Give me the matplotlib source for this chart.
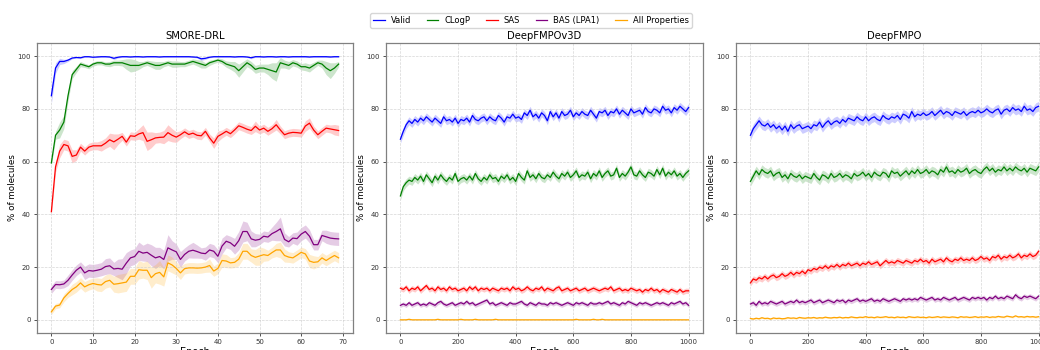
import numpy as np
import matplotlib
matplotlib.use("Agg")
import matplotlib.pyplot as plt

labels = ["Valid", "CLogP", "SAS", "BAS (LPA1)", "All Properties"]
colors = ["blue", "green", "red", "purple", "orange"]

# ---- SMORE-DRL (70 epochs), mean and std
smore_valid = [85.0, 95.5, 98.0, 98.0, 98.5, 99.3, 99.5, 99.4, 99.8, 99.8,
               99.6, 99.7, 99.8, 99.8, 99.7, 99.2, 99.6, 99.8, 99.8, 99.7,
               99.8, 99.8, 99.7, 99.8, 99.8, 99.8, 99.7, 99.8, 99.8, 99.8,
               99.8, 99.8, 99.8, 99.8, 99.7, 99.6, 99.0, 99.2, 99.6, 99.8,
               99.8, 99.8, 99.8, 99.8, 99.7, 99.8, 99.8, 99.7, 99.4, 99.8,
               99.8, 99.7, 99.8, 99.8, 99.7, 99.8, 99.8, 99.7, 99.8, 99.8,
               99.8, 99.8, 99.7, 99.8, 99.8, 99.8, 99.8, 99.7, 99.8, 99.8]
smore_valid_sd = [3.0, 2.0, 1.2, 0.8, 0.5, 0.3, 0.2, 0.3, 0.2, 0.2,
                  0.2, 0.2, 0.2, 0.2, 0.2, 0.5, 0.3, 0.2, 0.2, 0.2,
                  0.2, 0.2, 0.2, 0.2, 0.2, 0.2, 0.2, 0.2, 0.2, 0.2,
                  0.2, 0.2, 0.2, 0.2, 0.2, 0.3, 0.6, 0.4, 0.2, 0.2,
                  0.2, 0.2, 0.2, 0.2, 0.2, 0.2, 0.2, 0.2, 0.4, 0.2,
                  0.2, 0.2, 0.2, 0.2, 0.2, 0.2, 0.2, 0.2, 0.2, 0.2,
                  0.2, 0.2, 0.2, 0.2, 0.2, 0.2, 0.2, 0.2, 0.2, 0.2]
smore_clogp = [59.5, 70.0, 72.0, 75.0, 85.0, 93.0, 95.0, 97.0, 96.5, 96.0,
               97.0, 97.5, 97.5, 97.0, 97.0, 97.5, 97.5, 97.5, 97.0, 96.5,
               96.5, 96.5, 97.0, 97.5, 97.0, 96.5, 96.5, 97.0, 97.5, 97.0,
               97.0, 97.0, 97.0, 97.5, 98.0, 97.5, 97.0, 96.5, 97.5, 98.0,
               98.5, 98.0, 97.0, 96.5, 96.0, 94.5, 96.0, 97.5, 96.5, 95.0,
               95.5, 95.5, 95.0, 94.5, 94.0, 97.5, 97.0, 96.5, 97.5, 97.0,
               96.0, 96.0, 95.5, 96.5, 97.5, 97.0, 95.5, 94.5, 95.5, 97.0]
smore_clogp_sd = [1.0, 1.5, 3.0, 2.5, 2.0, 1.5, 1.2, 1.0, 0.8, 0.8,
                  0.8, 0.8, 0.8, 0.8, 1.0, 1.0, 1.0, 1.2, 2.0, 2.5,
                  2.2, 1.5, 1.0, 1.0, 1.2, 1.5, 1.5, 1.0, 1.0, 1.2,
                  1.2, 1.0, 1.0, 1.0, 1.0, 1.2, 1.5, 1.0, 1.0, 0.8,
                  0.8, 1.0, 1.2, 1.5, 2.0, 2.5, 2.0, 1.5, 1.5, 1.5,
                  1.5, 1.5, 2.0, 3.0, 3.5, 2.0, 1.5, 1.5, 1.2, 1.2,
                  1.2, 1.5, 1.5, 1.2, 1.0, 1.5, 2.5, 3.0, 2.0, 1.0]
smore_sas = [41.0, 58.0, 64.0, 66.5, 66.0, 62.0, 62.5, 65.5, 64.0, 65.5,
             66.0, 66.0, 66.0, 67.0, 68.3, 67.5, 68.5, 69.6, 67.4, 69.8,
             69.6, 70.5, 71.0, 67.7, 68.3, 69.0, 69.2, 69.3, 71.0, 70.0,
             69.3, 70.2, 71.3, 70.3, 70.8, 70.0, 69.8, 71.5, 69.0, 67.0,
             69.6, 70.5, 71.5, 70.6, 72.0, 73.6, 73.0, 72.3, 71.8, 73.4,
             72.0, 72.7, 71.5, 72.5, 74.0, 72.0, 70.2, 70.8, 71.1, 71.0,
             70.8, 73.5, 74.6, 72.0, 70.2, 71.5, 72.7, 72.4, 72.1, 71.8]
smore_sas_sd = [1.0, 2.0, 2.5, 2.0, 2.0, 2.5, 2.0, 1.5, 1.5, 1.5,
                1.5, 1.5, 2.0, 2.0, 2.5, 3.0, 2.0, 1.5, 1.5, 1.5,
                1.5, 2.0, 3.0, 3.5, 3.0, 2.0, 2.0, 2.5, 3.0, 2.5,
                2.0, 1.5, 1.5, 1.5, 1.5, 1.5, 1.5, 1.5, 1.5, 2.0,
                2.0, 1.5, 1.5, 1.5, 1.5, 1.5, 1.5, 1.5, 1.5, 2.0,
                1.5, 1.5, 1.5, 1.5, 2.0, 1.5, 1.5, 1.5, 1.5, 1.5,
                1.5, 2.0, 2.0, 1.5, 1.5, 1.5, 1.5, 1.5, 2.0, 2.0]
smore_bas = [11.5, 13.4, 13.3, 13.6, 15.0, 17.0, 18.8, 20.0, 17.8, 18.7,
             18.5, 18.8, 19.2, 20.2, 20.5, 19.3, 19.5, 19.2, 21.5, 23.5,
             24.0, 26.0, 25.3, 25.6, 24.5, 23.5, 24.0, 22.9, 27.3, 26.5,
             25.8, 22.9, 24.8, 26.0, 26.4, 25.9, 25.3, 25.1, 26.5, 26.0,
             24.1, 28.0, 29.8, 29.2, 27.9, 30.0, 33.5, 33.5, 30.7, 30.2,
             30.5, 31.7, 31.4, 32.7, 33.5, 34.5, 30.5, 29.6, 31.0, 30.8,
             32.5, 33.5, 31.7, 28.5, 28.5, 32.0, 31.5, 31.0, 30.8, 30.7]
smore_bas_sd = [1.5, 1.5, 1.5, 1.5, 2.0, 2.0, 2.0, 2.0, 2.5, 2.5,
                2.5, 2.5, 2.5, 3.0, 3.0, 2.5, 3.5, 4.0, 4.0, 3.0,
                3.0, 3.5, 3.0, 3.5, 4.0, 4.0, 3.5, 3.5, 5.0, 3.5,
                3.0, 3.0, 2.5, 2.5, 3.0, 2.5, 2.0, 2.5, 2.5, 2.5,
                2.5, 3.0, 2.5, 2.5, 3.0, 3.5, 4.0, 3.5, 3.0, 2.5,
                2.0, 2.0, 2.0, 2.5, 3.5, 4.5, 2.5, 2.0, 2.0, 2.5,
                2.5, 2.5, 2.5, 2.0, 2.0, 2.0, 2.5, 2.5, 2.5, 2.5]
smore_all = [3.0, 5.2, 5.6, 8.3, 10.0, 11.5, 12.5, 14.0, 12.5, 13.3,
             13.8, 13.4, 13.2, 14.5, 15.0, 13.5, 13.7, 14.0, 14.3, 16.5,
             16.5, 19.0, 18.8, 18.8, 16.0, 17.5, 18.0, 16.3, 21.6, 20.8,
             19.5, 17.8, 19.4, 19.7, 19.7, 19.6, 19.7, 20.0, 20.6, 18.5,
             19.5, 22.5, 22.3, 21.6, 21.8, 23.0, 26.0, 26.0, 24.4, 23.7,
             24.2, 24.7, 24.4, 25.5, 26.5, 26.5, 24.4, 23.8, 23.5, 24.5,
             25.6, 25.0, 22.3, 21.8, 22.0, 23.5, 22.5, 23.5, 24.4, 23.5]
smore_all_sd = [1.0, 1.0, 1.0, 1.5, 1.5, 2.0, 2.0, 2.0, 2.0, 2.0,
                2.0, 2.5, 2.5, 2.5, 2.5, 3.0, 3.5, 3.5, 3.5, 3.0,
                3.0, 3.5, 3.0, 3.5, 4.0, 3.5, 4.5, 3.5, 3.0, 3.0,
                2.5, 2.5, 2.0, 2.0, 2.0, 2.0, 2.0, 2.0, 2.5, 2.0,
                2.0, 2.5, 2.5, 2.0, 2.0, 2.5, 3.0, 3.0, 2.5, 3.0,
                3.5, 2.5, 2.0, 2.0, 2.5, 3.0, 2.5, 2.0, 2.0, 2.0,
                2.0, 2.0, 2.5, 2.5, 2.0, 2.0, 2.0, 2.0, 2.0, 2.0]

# ---- DeepFMPOv3D (sampled every 10 epochs)
v3d_valid = [68.5, 71.5, 74.0, 75.5, 74.5, 76.0, 75.0, 76.5, 75.5, 77.0,
             76.0, 75.0, 76.5, 75.5, 74.5, 77.0, 75.5, 76.0, 75.0, 76.5,
             74.5, 76.0, 75.5, 76.5, 75.0, 77.5, 76.0, 75.5, 76.5, 77.0,
             75.5, 77.0, 76.0, 75.5, 77.5, 76.5, 75.0, 77.0, 76.5, 78.0,
             76.5, 77.0, 76.0, 78.5, 77.5, 79.5, 77.0, 78.0, 76.5, 78.5,
             77.5, 75.5, 79.0, 77.0, 78.5, 76.5, 79.0, 77.5, 78.0, 79.5,
             77.0, 78.5, 77.5, 79.0, 78.0, 77.5, 79.5, 78.0, 76.5, 79.0,
             78.5, 79.5, 77.5, 79.0, 78.5, 80.0, 78.0, 79.5, 78.5, 77.5,
             80.0, 78.5, 79.0, 79.5, 78.0, 80.5, 79.0, 78.5, 80.0, 79.5,
             78.5, 81.0, 79.5, 80.0, 78.5, 80.5, 79.5, 81.0, 80.0, 79.0,
             80.5]
v3d_clogp = [47.0, 50.5, 52.0, 53.0, 52.5, 54.0, 53.0, 54.5, 52.5, 55.0,
             53.5, 52.0, 54.5, 53.0, 55.0, 53.5, 52.5, 54.0, 53.0, 55.5,
             52.5, 53.5, 54.0, 53.0, 54.5, 53.0, 55.5, 53.5, 52.5, 54.0,
             53.0, 55.0, 53.5, 54.0, 52.5, 54.5, 53.5, 55.0, 53.0, 54.0,
             52.5, 55.5, 54.0, 53.0, 56.5, 54.0, 55.0, 53.5, 55.5, 54.0,
             53.5, 55.0, 54.0, 56.0, 54.5, 53.5, 55.5, 54.5, 56.0, 54.0,
             55.0, 56.5, 54.0, 55.0, 54.5, 56.0, 53.5, 55.5, 54.5, 56.5,
             54.0, 55.5, 56.5, 54.5, 55.0, 57.5, 54.0, 55.5, 54.5, 56.0,
             58.0, 55.0, 54.5, 56.5, 55.0, 54.0, 56.0, 55.5, 54.5, 57.0,
             55.0, 57.5, 54.5, 56.0, 55.0, 56.5, 54.5, 55.5, 54.0, 55.5,
             56.5]
v3d_sas = [12.0, 11.5, 12.5, 11.0, 12.0, 11.5, 12.5, 11.0, 12.0, 13.0,
           11.5, 12.0, 11.0, 12.5, 11.5, 12.0, 11.0, 12.5, 11.5, 12.0,
           11.0, 11.5, 12.0, 11.0, 12.5, 11.5, 12.5, 11.0, 12.0, 11.5,
           12.0, 11.0, 12.0, 11.5, 11.0, 12.0, 11.5, 12.0, 11.0, 12.5,
           11.5, 12.0, 11.0, 11.5, 12.5, 11.5, 11.0, 12.0, 11.5, 12.5,
           11.0, 12.0, 11.5, 11.0, 12.0, 12.5, 11.0, 11.5, 12.0, 11.0,
           11.5, 12.0, 11.0, 11.5, 12.0, 11.0, 11.5, 12.0, 11.5, 11.0,
           11.5, 12.0, 11.5, 12.5, 11.0, 11.5, 12.0, 11.0, 11.5, 11.0,
           12.0, 11.5, 11.0, 11.5, 10.5, 11.5, 11.0, 12.0, 11.0, 11.5,
           10.5, 11.5, 11.0, 10.5, 11.5, 11.0, 10.5, 11.5, 10.5, 11.0,
           11.0]
v3d_bas = [5.5, 6.0, 5.5, 6.5, 5.5, 6.0, 6.5, 5.5, 6.0, 5.5,
           6.5, 6.0, 5.5, 6.5, 7.0, 6.0, 5.5, 6.0, 6.5, 5.5,
           6.0, 6.5, 6.0, 7.0, 6.0, 6.5, 5.5, 6.0, 6.5, 7.0,
           7.5, 6.0, 6.5, 5.5, 6.0, 6.5, 6.0, 5.5, 6.5, 6.0,
           6.0, 6.5, 7.0, 6.0, 5.5, 6.5, 6.0, 5.5, 6.5, 6.0,
           6.0, 5.5, 6.5, 6.0, 6.5, 6.0, 5.5, 6.0, 6.5, 6.0,
           5.5, 6.5, 6.0, 6.5, 6.0, 5.5, 6.5, 6.0, 6.0, 6.5,
           6.0, 6.5, 7.0, 6.0, 6.5, 6.0, 5.5, 6.5, 6.0, 7.0,
           6.5, 6.0, 5.5, 6.5, 6.0, 6.5, 6.0, 5.5, 6.0, 6.5,
           6.0, 6.5, 6.0, 5.5, 6.5, 6.0, 6.5, 7.0, 6.0, 6.5,
           5.5]
v3d_all = [0.0, 0.0, 0.0, 0.2, 0.0, 0.0, 0.0, 0.0, 0.0, 0.0,
           0.0, 0.0, 0.0, 0.2, 0.0, 0.0, 0.0, 0.0, 0.0, 0.0,
           0.0, 0.2, 0.0, 0.0, 0.0, 0.0, 0.2, 0.0, 0.0, 0.0,
           0.0, 0.0, 0.0, 0.2, 0.0, 0.0, 0.0, 0.0, 0.0, 0.0,
           0.0, 0.0, 0.0, 0.0, 0.0, 0.0, 0.0, 0.0, 0.0, 0.0,
           0.0, 0.0, 0.0, 0.0, 0.0, 0.0, 0.0, 0.0, 0.0, 0.0,
           0.0, 0.2, 0.0, 0.0, 0.0, 0.0, 0.0, 0.2, 0.0, 0.0,
           0.2, 0.0, 0.0, 0.0, 0.0, 0.0, 0.0, 0.0, 0.0, 0.0,
           0.0, 0.0, 0.0, 0.0, 0.0, 0.0, 0.0, 0.0, 0.0, 0.0,
           0.0, 0.0, 0.0, 0.0, 0.0, 0.0, 0.0, 0.0, 0.0, 0.0,
           0.0]
v3d_spread = [1.5, 1.5, 1.0, 0.8, 0.1]

# ---- DeepFMPO (sampled every 10 epochs)
fmpo_valid = [70.0, 72.5, 74.0, 75.5, 74.0, 73.5, 74.5, 73.0, 74.0, 72.5,
              73.5, 72.0, 73.5, 71.5, 74.0, 72.5, 73.5, 74.0, 72.5, 73.0,
              73.5, 72.5, 74.0, 73.5, 75.0, 73.0, 74.5, 75.5, 74.0, 75.0,
              75.5, 74.5, 76.0, 75.0, 76.5, 76.0, 75.5, 77.0, 76.0, 75.5,
              77.0, 75.5, 76.5, 77.0, 76.0, 75.5, 77.5, 76.5, 76.0, 77.0,
              76.5, 77.5, 76.0, 78.0, 77.5, 76.5, 79.0, 77.0, 78.0, 77.5,
              78.5, 77.5, 78.0, 79.0, 77.5, 78.5, 79.5, 78.0, 79.0, 78.5,
              77.5, 79.0, 78.5, 78.0, 79.0, 77.5, 78.5, 79.0, 78.5, 79.5,
              78.5, 79.0, 80.0, 79.0, 78.5, 79.5, 80.0, 78.0, 79.5, 80.0,
              79.0, 80.5, 79.5, 80.0, 79.0, 81.0, 79.5, 80.0, 79.0, 80.5,
              81.0]
fmpo_clogp = [52.5, 54.5, 56.5, 55.0, 57.0, 56.0, 55.5, 56.5, 54.5, 55.5,
              56.0, 54.0, 55.0, 53.5, 55.5, 54.5, 54.0, 55.0, 53.5, 54.5,
              54.0, 53.5, 55.5, 54.0, 53.0, 55.0, 54.5, 53.5, 55.5, 54.0,
              54.5, 55.5, 54.0, 55.0, 54.5, 53.5, 55.5, 54.5, 55.0, 56.0,
              54.5, 55.5, 54.0, 56.0, 55.0, 54.5, 56.0, 55.5, 54.0, 56.5,
              55.5, 56.0, 54.5, 55.5, 56.5, 55.0, 56.5, 55.5, 57.0, 55.5,
              56.0, 57.0, 55.5, 56.5, 56.0, 55.0, 57.0, 56.0, 58.0, 56.0,
              56.5, 55.5, 57.0, 56.0, 56.5, 57.5, 55.5, 56.5, 57.0, 56.0,
              55.5, 57.0, 58.0, 56.5, 57.5, 56.0, 57.0, 56.5, 58.0, 56.5,
              57.5, 56.5, 58.0, 57.0, 56.5, 57.5, 56.0, 57.5, 57.0, 56.5,
              58.0]
fmpo_sas = [14.0, 15.5, 15.0, 16.0, 15.5, 16.5, 15.5, 16.5, 17.0, 16.0,
            16.5, 17.5, 16.5, 17.0, 18.0, 17.0, 18.0, 17.5, 18.5, 17.5,
            19.0, 18.5, 19.5, 19.0, 20.0, 19.5, 20.5, 19.5, 20.5, 20.0,
            21.0, 20.0, 21.0, 20.5, 21.5, 20.5, 21.0, 21.5, 20.5, 21.5,
            21.0, 22.0, 21.0, 21.5, 22.0, 20.5, 21.5, 22.5, 21.5, 22.0,
            21.5, 22.5, 22.0, 21.5, 22.5, 22.0, 21.5, 22.5, 22.0, 23.0,
            22.0, 22.5, 21.5, 23.0, 22.0, 22.5, 23.0, 22.0, 23.5, 22.5,
            22.0, 23.0, 22.5, 23.5, 22.5, 23.0, 22.5, 23.5, 22.5, 23.0,
            24.0, 23.0, 23.5, 22.5, 24.0, 23.5, 24.5, 23.0, 24.0, 23.5,
            24.5, 23.5, 24.0, 25.0, 23.5, 24.5, 24.0, 25.0, 24.0, 24.5,
            26.0]
fmpo_bas = [6.0, 6.5, 5.5, 7.0, 6.0, 6.5, 6.0, 7.0, 6.5, 6.0,
            6.5, 7.0, 6.0, 6.5, 7.0, 6.5, 7.5, 6.5, 7.0, 6.5,
            7.0, 7.5, 6.5, 7.0, 7.5, 6.5, 7.0, 7.5, 7.0, 6.5,
            7.5, 7.0, 7.5, 6.5, 7.5, 7.0, 7.5, 8.0, 7.0, 7.5,
            7.0, 7.5, 8.0, 7.0, 7.5, 7.0, 8.0, 7.5, 7.0, 7.5,
            8.0, 7.5, 7.0, 8.0, 7.5, 8.0, 7.5, 8.0, 7.5, 8.5,
            8.0, 7.5, 8.0, 8.5, 7.5, 8.0, 7.5, 8.5, 8.0, 7.5,
            8.0, 8.5, 7.5, 8.0, 8.5, 8.0, 7.5, 8.5, 8.0, 8.5,
            8.0, 8.5, 7.5, 8.5, 8.0, 9.0, 8.0, 8.5, 8.0, 9.0,
            8.5, 8.0, 9.5, 8.5, 8.0, 9.0, 8.5, 9.0, 8.5, 8.0,
            9.0]
fmpo_all = [0.5, 0.3, 0.6, 0.4, 0.8, 0.5, 0.6, 0.3, 0.7, 0.5,
            0.6, 0.4, 0.5, 0.8, 0.6, 0.7, 0.5, 0.9, 0.7, 0.6,
            0.8, 0.7, 0.9, 0.6, 0.8, 0.7, 1.0, 0.8, 0.7, 0.9,
            0.8, 1.0, 0.7, 0.9, 0.8, 1.1, 0.9, 0.8, 1.0, 0.9,
            1.2, 0.9, 1.0, 0.8, 1.1, 0.9, 1.0, 1.2, 0.9, 1.0,
            0.8, 1.1, 0.9, 1.0, 0.8, 1.2, 1.0, 0.9, 1.1, 0.9,
            1.0, 0.8, 1.1, 0.9, 1.0, 1.2, 0.9, 1.1, 1.0, 0.9,
            1.1, 1.0, 0.8, 1.2, 1.0, 1.1, 0.9, 1.0, 1.2, 0.9,
            1.1, 1.0, 1.2, 0.9, 1.1, 1.0, 1.3, 1.1, 1.0, 1.4,
            1.2, 1.0, 1.5, 1.1, 1.2, 1.0, 1.3, 1.1, 1.2, 1.0,
            1.2]
fmpo_spread = [1.8, 1.8, 1.2, 0.9, 0.3]


def draw_panel(ax, x, means, sds, title):
    for m, s, c, lab in zip(means, sds, colors, labels):
        m = np.asarray(m)
        s = np.asarray(s) if np.ndim(s) else s
        ax.fill_between(x, m - s, m + s, color=c, alpha=0.2, lw=0)
        ax.plot(x, m, color=c, lw=0.9, label=lab)
    ax.set_title(title, fontsize=7.2, pad=3)
    ax.set_xlabel("Epoch", fontsize=7, labelpad=1)
    ax.set_ylabel("% of molecules", fontsize=6.3)
    ax.yaxis.set_label_coords(-0.064, 0.5)
    ax.set_ylim(-5, 105)
    ax.set_yticks([0, 20, 40, 60, 80, 100])
    ax.tick_params(labelsize=5, length=2.5, width=0.6, pad=2, colors="#333333")
    ax.grid(True, ls="--", lw=0.5, color="#cccccc", alpha=0.8)
    for sp in ax.spines.values():
        sp.set_color("#808080")
        sp.set_linewidth(0.9)


fig = plt.figure(figsize=(10.4, 3.5), dpi=100)
ax1 = fig.add_axes([37 / 1040, 17 / 350, 316 / 1040, 290 / 350])
ax2 = fig.add_axes([386 / 1040, 17 / 350, 317 / 1040, 290 / 350])
ax3 = fig.add_axes([736 / 1040, 17 / 350, 317 / 1040, 290 / 350])

smore_x = np.arange(len(smore_valid))
long_x = np.arange(0, 1001, 10)

draw_panel(ax1, smore_x,
           [smore_valid, smore_clogp, smore_sas, smore_bas, smore_all],
           [smore_valid_sd, smore_clogp_sd, smore_sas_sd, smore_bas_sd, smore_all_sd],
           "SMORE-DRL")
draw_panel(ax2, long_x,
           [v3d_valid, v3d_clogp, v3d_sas, v3d_bas, v3d_all],
           v3d_spread, "DeepFMPOv3D")
draw_panel(ax3, long_x,
           [fmpo_valid, fmpo_clogp, fmpo_sas, fmpo_bas, fmpo_all],
           fmpo_spread, "DeepFMPO")
ax1.set_xticks([0, 10, 20, 30, 40, 50, 60, 70])
for ax in (ax2, ax3):
    ax.set_xticks([0, 200, 400, 600, 800, 1000])

handles, labs = ax1.get_legend_handles_labels()
fig.legend(handles, labs, loc="upper center", bbox_to_anchor=(531 / 1040, 0.975),
           ncol=5, fontsize=6, frameon=True, handlelength=1.4, handletextpad=0.7,
           columnspacing=1.9, borderpad=0.35, edgecolor="#cccccc")

fig.savefig("out.png", dpi=100)
